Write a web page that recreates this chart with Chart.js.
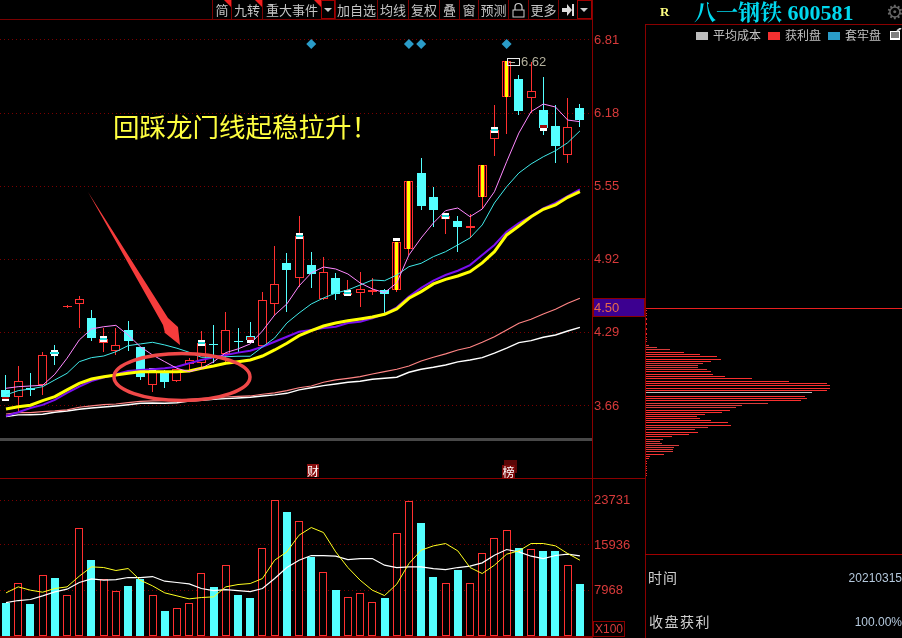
<!DOCTYPE html>
<html><head><meta charset="utf-8">
<style>
html,body{margin:0;padding:0;background:#000;width:902px;height:638px;overflow:hidden;font-family:"Noto Sans CJK SC","Noto Sans",sans-serif}
canvas{position:absolute;display:block}
.a{position:absolute;white-space:nowrap}
.tb{position:absolute;top:0;height:19px;line-height:19px;text-align:center;color:#c4c4c4;font-size:13px;border-left:1px solid #7a0000;box-sizing:border-box}
.tri{position:absolute;right:0;top:0;width:0;height:0;border-top:7px solid #f02020;border-left:7px solid transparent}
.drop{position:absolute;top:0;height:19px;box-sizing:border-box;border:1px solid #a00000}
.drop i{position:absolute;left:4px;top:7px;width:0;height:0;border-top:4px solid #ccc;border-left:4px solid transparent;border-right:4px solid transparent}
</style></head><body>
<canvas id="main" width="645" height="638" style="left:0;top:0"></canvas>
<canvas id="chips" width="256" height="638" style="left:646px;top:0"></canvas>
<div id="overlay"></div>
<script src="https://cdn.jsdelivr.net/npm/chart.js@4/dist/chart.umd.min.js"></script>
<script>
const priceTicks=[6.81,6.18,5.55,4.92,4.29,3.66];
const volumeTicks=[23731,15936,7968];
const currentPrice=4.50;
const peakPrice=6.62;
const opens=[3.798,3.735,3.811,3.841,4.125,4.512,4.538,4.417,4.202,4.133,4.314,4.168,3.841,3.953,3.875,4.021,4.030,4.194,4.108,4.219,4.262,4.176,4.538,4.891,4.762,4.873,4.581,4.762,4.615,4.632,4.641,4.658,4.658,5.011,5.665,5.459,5.269,5.252,5.196,5.459,5.958,6.319,6.474,6.311,6.207,6.070,5.820,6.225];
const closes=[3.737,3.873,3.798,4.099,4.108,4.521,4.581,4.245,4.237,4.185,4.219,3.910,3.953,3.867,3.978,4.056,4.202,4.185,4.314,4.211,4.228,4.572,4.710,4.830,5.123,4.796,4.813,4.624,4.632,4.667,4.658,4.624,5.071,5.596,5.381,5.347,5.295,5.200,5.205,5.734,6.035,6.629,6.199,6.371,6.052,5.898,6.061,6.121];
const highs=[3.927,4.004,3.944,4.125,4.185,4.529,4.607,4.486,4.331,4.331,4.392,4.168,3.987,3.970,3.978,4.073,4.305,4.357,4.469,4.331,4.383,4.641,5.037,4.977,5.295,4.985,4.942,4.805,4.744,4.813,4.762,4.667,5.071,5.596,5.794,5.545,5.295,5.295,5.312,5.734,6.250,6.629,6.509,6.620,6.491,6.250,6.311,6.259];
const lows=[3.712,3.608,3.746,3.755,4.013,4.503,4.331,4.219,4.125,4.099,4.133,3.884,3.780,3.815,3.867,3.953,3.996,4.030,4.030,4.116,4.228,4.176,4.443,4.469,4.684,4.676,4.572,4.572,4.607,4.512,4.615,4.452,4.641,4.960,5.347,5.200,5.140,4.985,5.106,5.355,5.812,6.001,6.164,6.182,5.992,5.751,5.751,6.061];
const limitUpIdx=[32,33,39,41];
const maPink=[3.812,3.826,3.832,3.838,3.933,4.071,4.228,4.323,4.342,4.354,4.271,4.170,4.099,4.041,3.984,3.955,3.984,4.041,4.119,4.151,4.194,4.305,4.443,4.538,4.693,4.805,4.856,4.839,4.796,4.719,4.667,4.635,4.719,4.960,5.106,5.235,5.341,5.364,5.289,5.355,5.504,5.762,6.009,6.193,6.259,6.233,6.121,6.107];
const maCyan=[3.755,3.792,3.806,3.826,3.884,3.941,4.041,4.076,4.090,4.127,4.179,4.194,4.208,4.185,4.157,4.122,4.079,4.079,4.084,4.088,4.088,4.168,4.245,4.374,4.460,4.538,4.589,4.632,4.658,4.701,4.744,4.738,4.787,4.859,4.888,4.945,4.988,5.046,5.106,5.218,5.407,5.547,5.665,5.743,5.805,5.857,5.926,6.027];
const maPurple=[3.574,3.606,3.643,3.669,3.712,3.772,3.826,3.875,3.904,3.933,3.961,3.970,3.976,3.984,3.998,4.027,4.056,4.079,4.099,4.119,4.136,4.170,4.213,4.256,4.299,4.314,4.331,4.342,4.374,4.385,4.415,4.452,4.509,4.601,4.676,4.738,4.787,4.824,4.873,4.960,5.046,5.160,5.235,5.295,5.361,5.407,5.467,5.525];
const maYellow=[3.634,3.654,3.666,3.706,3.740,3.798,3.855,3.892,3.912,3.927,3.941,3.955,3.955,3.955,3.955,3.961,3.984,4.004,4.027,4.041,4.056,4.090,4.142,4.200,4.265,4.308,4.348,4.374,4.394,4.409,4.426,4.449,4.495,4.587,4.644,4.710,4.750,4.779,4.816,4.891,4.988,5.132,5.209,5.289,5.353,5.390,5.456,5.504];
const maSalmon=[3.591,3.602,3.602,3.611,3.617,3.626,3.649,3.660,3.671,3.677,3.688,3.700,3.703,3.706,3.709,3.718,3.723,3.729,3.737,3.743,3.746,3.761,3.772,3.792,3.817,3.832,3.864,3.884,3.898,3.912,3.935,3.955,3.976,4.004,4.047,4.079,4.108,4.142,4.165,4.208,4.256,4.314,4.372,4.406,4.452,4.492,4.544,4.587];
const maWhite=[3.568,3.583,3.585,3.589,3.606,3.617,3.632,3.643,3.651,3.660,3.671,3.683,3.686,3.683,3.688,3.703,3.709,3.718,3.723,3.729,3.735,3.746,3.755,3.769,3.798,3.817,3.835,3.849,3.864,3.873,3.890,3.898,3.907,3.950,3.976,3.993,4.013,4.039,4.056,4.076,4.114,4.157,4.205,4.222,4.251,4.271,4.305,4.337];
const volumes=[5802,9363,5569,10763,10225,7261,18992,13270,10065,7963,8722,9950,7261,4343,4985,5860,11113,8547,12514,7145,6620,15492,23900,21680,20220,13800,11290,8020,6910,7610,6040,6620,18120,23720,19750,10300,9360,11530,9360,14620,17240,18640,15370,15320,14850,14850,12350,9070];
const volYellow=[7553,8604,8020,7670,8312,8604,10471,12106,11989,11464,11814,9771,8779,7553,7028,6502,6736,6853,8604,9012,9187,10063,13273,14733,17651,18994,18118,14733,11989,9771,8020,7086,9071,12690,15025,15783,16192,14908,11989,10939,12398,14324,14908,16192,16192,15783,14441,13273];
const volWhite=[5860,6211,6386,7028,7728,8195,9363,10005,9771,9888,10238,10238,10413,9596,9363,9129,8312,7962,8137,7962,7787,8312,10063,11989,13273,14091,14091,13974,13390,13565,13565,12398,11989,12106,12106,11814,11639,11989,12223,12806,14149,15141,14733,13974,13565,14091,14324,14032];
const markerIdx=[0,4,8,12,16,20,24,28,32,36,40,44];
const markerHi=[3.740,4.142,4.262,3.987,4.228,4.256,5.149,4.658,5.106,5.324,6.061,6.076];
const markerLo=[3.703,4.090,4.211,3.953,4.176,4.205,5.097,4.607,5.080,5.272,6.012,6.029];
const stripIdx=[0,4,8,16,20,24,28,36,40,44];
const stripHi=[3.740,4.125,4.245,4.211,4.256,5.132,4.641,5.306,6.040,6.076];
const stripLo=[3.720,4.108,4.228,4.194,4.231,5.115,4.624,5.289,6.027,6.052];
const stripKind=["r","c","c","c","r","c","c","c","c","r"];
const diamondIdx=[25,33,34,41];
const diamondPrice=6.775;
const chipPrices=[4.182,4.165,4.148,4.122,4.105,4.088,4.062,4.045,4.027,4.010,3.993,3.976,3.959,3.933,3.916,3.898,3.873,3.855,3.838,3.812,3.795,3.778,3.743,3.726,3.709,3.683,3.666,3.649,3.623,3.606,3.588,3.571,3.554,3.537,3.520,3.494,3.477,3.459,3.433,3.416,3.399,3.373,3.355,3.338,3.321,3.304,3.286,3.269,3.244,3.226,3.209];
const chipValues=[3,11,24,38,54,71,75,65,57,52,52,61,65,67,79,106,143,181,184,184,181,166,159,161,155,122,96,90,84,76,59,51,54,65,82,85,62,49,52,43,26,17,14,16,33,28,27,27,18,4,3];
const chipDim=[0,1,2,8,9,10,11,25,26,27,36,37,41,42,43,44,45,46,47];
const chipGrey=[21];
const chipMinorPrices=[4.478,4.460,4.435,4.417,4.400,4.374,4.357,4.331,4.314,4.288,4.271,4.245,4.228,4.211,3.178,3.161,3.135,3.118,3.101,3.075,3.058];
const chipMinorValue=1;
const priceMin=3.040,priceMax=6.982,volMax=27666;
const toolbarItems=[["简",212,231,1],["九转",231,262,1],["重大事件",262,321,1],["",321,335,0],["加自选",335,377,0],["均线",377,408,0],["复权",408,439,0],["叠",439,459,0],["窗",459,478,0],["预测",478,508,0],["",508,528,0],["更多",528,558,0],["",558,577,0],["",577,592,0]];
const legendItems=[["平均成本","#bdbdbd",696,713],["获利盘","#f53030",768,785],["套牢盘","#2a9cc8",828,845]];

const RED="#ff3030",CYAN="#54ffff",GRID="#7a0000",AXIS="#d83a3a";
const pts=a=>a.map((v,i)=>({x:i,y:v}));
const isUp=i=>closes[i]>=opens[i];
const fitAxis=s=>{s.width=53;s.paddingTop=0;s.paddingBottom=0;};
const snap=el=>{ const odd=Math.round(el.width)%2===1;
  el.x=odd?Math.floor(el.x)+0.5:Math.round(el.x);
  el.y=Math.round(el.y);el.base=Math.round(el.base);
  if(el.y===el.base)el.base=el.y+1; };
const snapH=el=>{ el.y=Math.floor(el.y)+0.5;el.x=Math.round(el.x);el.base=Math.round(el.base); };
const barCommon={type:'bar',inflateAmount:0,borderSkipped:false,grouped:false};
const line=(data,color,w,axis,order)=>({type:'line',data:pts(data),borderColor:color,borderWidth:w,pointRadius:0,tension:0,fill:false,yAxisID:axis,order,clip:false});

const overlays={id:'overlays',
 afterDatasetsUpdate(c){c.getSortedVisibleDatasetMetas().forEach(m=>{if(m.type==='bar')m.data.forEach(snap);});},
 afterDatasetsDraw(c){
  const g=c.ctx,y=c.scales.yP;
  g.save();
  // price tag
  const py=y.getPixelForValue(currentPrice);
  g.fillStyle="#3c0090";g.fillRect(593,Math.round(py)-9,52,18);
  g.strokeStyle="#8a0000";g.lineWidth=1;g.strokeRect(593.5,Math.round(py)-9.5,51,18);
  g.fillStyle="#e86a4a";g.font='13px "Liberation Sans"';g.textBaseline='middle';g.textAlign='left';
  g.fillText(currentPrice.toFixed(2),594,Math.round(py));
  // high marker
  const hy=Math.round(y.getPixelForValue(peakPrice));
  const hx=Math.round(c.scales.x.getPixelForValue(41));
  g.strokeStyle="#e8e8e8";g.strokeRect(hx+.5,hy-3.5,12,7);
  g.fillStyle="#b8b8a8";g.fillRect(hx+2,hy,6,1);
  g.fillStyle="#b4b09c";g.fillText(peakPrice.toFixed(2),hx+14,hy);
  // hand-drawn arrow
  g.fillStyle="#f53c3c";g.beginPath();
  g.moveTo(88,192);g.lineTo(168,318);g.lineTo(178,327);g.lineTo(180,345);g.lineTo(165,333);g.lineTo(163,325);g.closePath();g.fill();
  // ellipse
  g.strokeStyle="#f04848";g.lineWidth=3.5;g.beginPath();g.ellipse(182,377,68,23.5,0,0,Math.PI*2);g.stroke();
  g.restore();
 }};

new Chart(document.getElementById('main'),{
 data:{datasets:[
  line(maPink,"#ff88ff",1,'yP',1),
  line(maCyan,"#40eaea",1,'yP',2),
  line(maYellow,"#ffff00",3,'yP',3),
  line(maPurple,"#7a10f0",2,'yP',4),
  line(maSalmon,"#ff8484",1.2,'yP',5),
  line(maWhite,"#ffffff",1.4,'yP',6),
  line(volYellow,"#ffff20",1,'yV',7),
  line(volWhite,"#ffffff",1.2,'yV',8),
  {type:'line',showLine:false,data:diamondIdx.map(i=>({x:i,y:diamondPrice})),pointStyle:'rectRot',pointRadius:5,pointBackgroundColor:"#2a9cc8",pointBorderWidth:0,yAxisID:'yP',order:9},
  {...barCommon,data:stripIdx.map((i,k)=>({x:i,y:[stripLo[k],stripHi[k]]})),backgroundColor:stripKind.map(k=>k==='r'?"#a00808":"#20d8d8"),barThickness:7,borderWidth:0,yAxisID:'yP',order:10},
  {...barCommon,data:markerIdx.map((i,k)=>({x:i,y:[markerLo[k],markerHi[k]]})),backgroundColor:"#ffffff",barThickness:7,borderWidth:0,yAxisID:'yP',order:11},
  {...barCommon,data:limitUpIdx.map(i=>({x:i,y:[opens[i],closes[i]]})),backgroundColor:"#ffff00",barThickness:3,borderWidth:0,yAxisID:'yP',order:12},
  {...barCommon,data:limitUpIdx.map(i=>({x:i,y:[opens[i],closes[i]]})),backgroundColor:"#f02020",barThickness:5,borderWidth:0,yAxisID:'yP',order:13},
  {...barCommon,data:pts(opens).map((p,i)=>({x:i,y:[opens[i],closes[i]]})),backgroundColor:opens.map((o,i)=>isUp(i)?"#000":CYAN),borderColor:opens.map((o,i)=>isUp(i)?RED:CYAN),borderWidth:1,barThickness:9,yAxisID:'yP',order:14},
  {...barCommon,data:pts(opens).map((p,i)=>({x:i,y:[lows[i],highs[i]]})),backgroundColor:opens.map((o,i)=>isUp(i)?RED:CYAN),barThickness:1,borderWidth:0,yAxisID:'yP',order:15},
  {...barCommon,data:pts(volumes),backgroundColor:volumes.map((v,i)=>isUp(i)?"#000":CYAN),borderColor:volumes.map((v,i)=>isUp(i)?RED:CYAN),borderWidth:1,barThickness:8,yAxisID:'yV',order:16}
 ]},
 options:{responsive:false,animation:false,devicePixelRatio:1,parsing:true,events:[],
  layout:{autoPadding:false,padding:{top:20,bottom:2,left:0,right:0}},
  plugins:{legend:{display:false},tooltip:{enabled:false}},
  scales:{
   x:{type:'linear',min:-0.491,max:47.99,display:false,offset:false},
   yP:{type:'linear',position:'right',stack:'panes',stackWeight:458,min:priceMin,max:priceMax,
    afterBuildTicks:s=>{s.ticks=priceTicks.map(v=>({value:v}));},
    afterFit:fitAxis,
    ticks:{color:AXIS,font:{family:'"Liberation Sans"',size:13},padding:2,autoSkip:false,callback:v=>Number(v).toFixed(2)},
    grid:{color:GRID,drawTicks:false,lineWidth:1},border:{display:false,dash:[1,3]}},
   yV:{type:'linear',position:'right',stack:'panes',stackWeight:158,min:0,max:volMax,
    afterBuildTicks:s=>{s.ticks=volumeTicks.map(v=>({value:v}));},
    afterFit:fitAxis,
    ticks:{color:AXIS,font:{family:'"Liberation Sans"',size:13},padding:2,autoSkip:false,callback:v=>String(v)},
    grid:{color:GRID,drawTicks:false,lineWidth:1},border:{display:false,dash:[1,3]}}
  }},
 plugins:[overlays]
});

const chipColor=i=>chipGrey.includes(i)?"#bdbdbd":chipDim.includes(i)?"#d83c3c":"#f83030";
const chipLine={id:'chipLine',
 afterDatasetsUpdate(c){c.getSortedVisibleDatasetMetas().forEach(m=>m.data.forEach(snapH));},
 afterDatasetsDraw(c){const g=c.ctx,py=Math.round(c.scales.y.getPixelForValue(currentPrice));
  g.save();g.fillStyle="#e82020";g.fillRect(0,py,256,1);g.restore();}};
new Chart(document.getElementById('chips'),{
 type:'bar',
 data:{datasets:[
  {data:chipPrices.map((p,i)=>({x:chipValues[i],y:p})),backgroundColor:chipValues.map((v,i)=>chipColor(i)),barThickness:1,inflateAmount:0,borderWidth:0,grouped:false},
  {data:chipMinorPrices.map(p=>({x:chipMinorValue,y:p})),backgroundColor:"#e03030",barThickness:1,inflateAmount:0,borderWidth:0,grouped:false}
 ]},
 options:{indexAxis:'y',responsive:false,animation:false,devicePixelRatio:1,events:[],
  layout:{autoPadding:false,padding:{top:20,bottom:160,left:0,right:0}},
  plugins:{legend:{display:false},tooltip:{enabled:false}},
  scales:{x:{type:'linear',min:0,max:256,display:false},y:{type:'linear',min:priceMin,max:priceMax,display:false,offset:false}}},
 plugins:[chipLine]
});

// page furniture: toolbar, header, side-panel text
const ov=document.getElementById('overlay');
const add=(html)=>ov.insertAdjacentHTML('beforeend',html);
const rect=(l,t,w,h,c)=>add(`<div class="a" style="left:${l}px;top:${t}px;width:${w}px;height:${h}px;background:${c}"></div>`);
toolbarItems.forEach(([t,l,r,tri])=>{
 add(`<div class="tb" style="left:${l}px;width:${r-l}px">${t}${tri?'<span class="tri"></span>':''}</div>`);
});
add('<div class="drop" style="left:321px;width:14px"><i style="left:2px"></i></div>');
add('<div class="drop" style="left:577px;width:15px"><i style="left:2px"></i></div>');
add('<svg class="a" style="left:511px;top:2px" width="15" height="16"><path d="M4 8V5a3.5 3.5 0 0 1 7 0v3" fill="none" stroke="#ccc" stroke-width="1.2"/><rect x="2" y="8" width="11" height="7" fill="none" stroke="#ccc"/></svg>');
add('<svg class="a" style="left:561px;top:4px" width="14" height="12"><path d="M1 4h5V0l5 6-5 6V8H1z" fill="#ddd"/><rect x="11" y="0" width="2" height="12" fill="#ddd"/></svg>');
rect(0,19,592,1,"#7a0000");
rect(592,0,1,638,"#8a0000");
rect(645,24,1,614,"#8a0000");
rect(645,24,257,1,"#8a0000");
rect(0,478,645,1,"#8a0000");
rect(0,636,592,2,"#8a0000");
rect(0,438,592,3,"#484848");
rect(645,554,257,1,"#a00000");
add('<div class="a" style="left:113px;top:108px;font-size:26.5px;line-height:36px;color:#ffff40;font-weight:400">回踩龙门线起稳拉升！</div>');
add('<div class="a" style="left:307px;top:464px;width:12px;height:13px;background:#8a1010;color:#fff;font-size:12px;line-height:13px;text-align:center">财</div>');
rect(504,460,13,13,"#5a0606");
add('<div class="a" style="left:502px;top:465px;width:13px;height:13px;background:#7a0808;color:#fff;font-size:12px;line-height:13px;text-align:center">榜</div>');
add('<div class="a" style="left:593px;top:621px;width:30px;height:14px;border:1px solid #8a0000;color:#d83a3a;font:12px/14px \'Liberation Sans\';text-align:center">X100</div>');
add('<div class="a" style="left:660px;top:3px;color:#ffff80;font:bold 13px/18px \'Liberation Serif\'">R</div>');
add('<div class="a" style="left:694px;top:-2px;color:#00d8ee;font:bold 22px/26px \'Noto Serif CJK SC\',\'Noto Sans CJK SC\';letter-spacing:0">八一钢铁 <span style="font-family:\'Liberation Serif\'">600581</span></div>');
add('<div class="a" style="left:886px;top:0px;color:#666;font:20px/24px \'DejaVu Sans\'">⚙</div>');
legendItems.forEach(([t,c,sx,tx])=>{
 rect(sx,32,12,8,c);
 add(`<div class="a" style="left:${tx}px;top:26px;color:#c0c0c0;font-size:12px;line-height:18px">${t}</div>`);
});
add('<svg class="a" style="left:889px;top:28px" width="13" height="13"><rect x="1" y="3" width="10" height="9" fill="#fff"/><path d="M2 5h8M2 7h8M2 9h8" stroke="#000"/><path d="M8 3l4-3" stroke="#ccc" stroke-width="2"/></svg>');
add('<div class="a" style="left:648px;top:567px;color:#d0d0d0;font-size:14px;line-height:20px;letter-spacing:1px">时间</div>');
add('<div class="a" style="right:0;top:570px;color:#b4c8dc;font:12px/16px \'Liberation Sans\'">20210315</div>');
add('<div class="a" style="left:649px;top:611px;color:#d0d0d0;font-size:14px;line-height:20px;letter-spacing:1.5px">收盘获利</div>');
add('<div class="a" style="right:0;top:614px;color:#b4c8dc;font:12px/16px \'Liberation Sans\'">100.00%</div>');
</script>
</body></html>
